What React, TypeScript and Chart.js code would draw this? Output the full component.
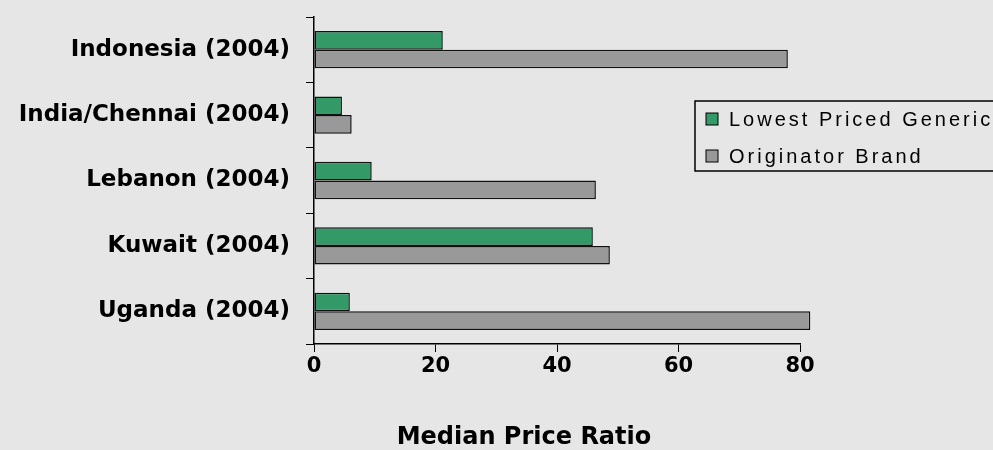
import React, { useEffect, useRef } from 'react';
import { Chart, registerables } from 'chart.js';

Chart.register(...registerables);

const categories = [
  'Indonesia (2004)',
  'India/Chennai (2004)',
  'Lebanon (2004)',
  'Kuwait (2004)',
  'Uganda (2004)',
];
const seriesLabels = ['Lowest Priced Generic', 'Originator Brand'];
const genericValues = [21.2, 4.6, 9.5, 45.9, 5.9];
const originatorValues = [78.0, 6.2, 46.4, 48.7, 81.7];
const xMin = 0;
const xMax = 80;
const xStep = 20;
const axisTitle = 'Median Price Ratio';

const BG = '#e6e6e6';
const GREEN = '#339966';
const GRAY = '#999999';

const bgPlugin = {
  id: 'bgFill',
  beforeDraw(chart: any) {
    const { ctx } = chart;
    ctx.save();
    ctx.fillStyle = BG;
    ctx.fillRect(0, 0, chart.width, chart.height);
    ctx.restore();
  },
};

const axisTitlePlugin = {
  id: 'axisTitle',
  afterDraw(chart: any) {
    const { ctx, chartArea } = chart;
    const cx = chartArea.left + (chartArea.right - chartArea.left) * 0.432;
    ctx.save();
    ctx.font = 'bold 24px "DejaVu Sans", sans-serif';
    ctx.fillStyle = '#000';
    ctx.textAlign = 'center';
    ctx.textBaseline = 'middle';
    ctx.fillText(axisTitle, cx, chartArea.bottom + 94);
    ctx.restore();
  },
};

const legendPlugin = {
  id: 'boxLegend',
  afterDraw(chart: any) {
    const { ctx, chartArea } = chart;
    const left = chartArea.right - 105;
    const top = chartArea.top + 84;
    const bottom = chartArea.top + 154;
    ctx.save();
    ctx.fillStyle = BG;
    ctx.fillRect(left, top, chart.width - left + 10, bottom - top);
    ctx.strokeStyle = '#000';
    ctx.lineWidth = 1.5;
    ctx.strokeRect(left, top, chart.width - left + 10, bottom - top);
    chart.data.datasets.forEach((ds: any, i: number) => {
      const cy = top + 18 + i * 37;
      ctx.fillStyle = ds.backgroundColor;
      ctx.fillRect(left + 11, cy - 6, 12, 12);
      ctx.lineWidth = 1;
      ctx.strokeStyle = '#000';
      ctx.strokeRect(left + 11, cy - 6, 12, 12);
      ctx.font = '20px "Liberation Sans", Arial, sans-serif';
      (ctx as any).letterSpacing = '3px';
      ctx.textBaseline = 'middle';
      ctx.textAlign = 'left';
      ctx.fillStyle = '#000';
      ctx.fillText(ds.label, left + 34, cy + 1);
      (ctx as any).letterSpacing = '0px';
    });
    ctx.restore();
  },
};

export default function App() {
  const canvasRef = useRef<HTMLCanvasElement | null>(null);

  useEffect(() => {
    if (!canvasRef.current) return;
    const chart = new Chart(canvasRef.current, {
      type: 'bar',
      data: {
        labels: categories,
        datasets: [
          {
            label: seriesLabels[0],
            data: genericValues,
            backgroundColor: GREEN,
            borderColor: '#111',
            borderWidth: 1.5,
            borderSkipped: false,
            clip: false as any,
          },
          {
            label: seriesLabels[1],
            data: originatorValues,
            backgroundColor: GRAY,
            borderColor: '#111',
            borderWidth: 1.5,
            borderSkipped: false,
            clip: false as any,
          },
        ],
      },
      options: {
        indexAxis: 'y',
        animation: false,
        responsive: true,
        maintainAspectRatio: false,
        events: [],
        datasets: {
          bar: {
            categoryPercentage: 0.57,
            barPercentage: 1.0,
          },
        },
        layout: {
          padding: { left: 0, right: 193, top: 17, bottom: 0 },
        },
        plugins: {
          legend: { display: false },
          tooltip: { enabled: false },
        },
        scales: {
          x: {
            type: 'linear',
            min: xMin,
            max: xMax,
            ticks: {
              stepSize: xStep,
              color: '#000',
              font: { family: '"DejaVu Sans", sans-serif', size: 21, weight: 'bold', lineHeight: 1 },
              padding: 4,
            },
            grid: {
              drawOnChartArea: false,
              drawTicks: true,
              tickLength: 8,
              color: '#000',
              lineWidth: 1,
            },
            border: { display: true, color: '#000', width: 1.5 },
            afterFit: (scale: any) => {
              scale.height = 106;
            },
          },
          y: {
            type: 'category',
            ticks: {
              color: '#000',
              font: { family: '"DejaVu Sans", sans-serif', size: 23, weight: 'bold' },
              padding: 16,
              autoSkip: false,
            },
            grid: {
              offset: true,
              drawOnChartArea: false,
              drawTicks: true,
              tickLength: 8,
              color: '#000',
              lineWidth: 1,
            },
            border: { display: true, color: '#000', width: 1.5 },
            afterFit: (scale: any) => {
              scale.width = 314;
              scale.paddingTop = 0;
              scale.paddingBottom = 0;
            },
          },
        } as any,
      },
      plugins: [bgPlugin, axisTitlePlugin, legendPlugin],
    });
    return () => chart.destroy();
  }, []);

  return (
    <div style={{ position: 'absolute', left: 0, top: 0, width: 993, height: 450, background: BG }}>
      <canvas ref={canvasRef} />
    </div>
  );
}
